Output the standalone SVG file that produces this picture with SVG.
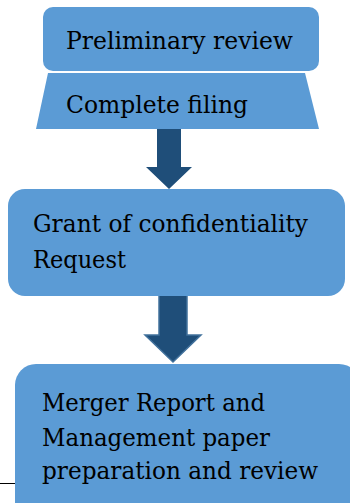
<svg xmlns="http://www.w3.org/2000/svg" width="350" height="503" viewBox="0 0 350 503">
  <style>
    .box { fill: #5B9BD5; }
    .lbl { font-family: "DejaVu Serif", "Liberation Serif", serif; font-size: 24px; fill: #000; }
    .arrow { fill: #1F4E79; }
    .arrow2 { fill: #1F4E79; stroke: #41719C; stroke-width: 1.5; }
  </style>
  <rect width="350" height="503" fill="#fff"/>
  <g id="connectors">
    <path class="arrow" d="M157,129 H181 V167 H192 L169,189 L146,167 H157 Z"/>
    <path class="arrow2" d="M159,294 H187 V335 H201 L173,362 L145,335 H159 Z"/>
    <line x1="0" y1="483.5" x2="16" y2="483.5" stroke="#000" stroke-width="1"/>
  </g>
  <g id="preliminary-review">
    <rect class="box" x="43" y="7" width="276" height="64" rx="10"/>
    <text class="lbl" x="66" y="48.5" textLength="227" lengthAdjust="spacingAndGlyphs">Preliminary review</text>
  </g>
  <g id="complete-filing">
    <polygon class="box" points="48,73 305,73 319,129 36,129"/>
    <text class="lbl" x="66" y="112.5" textLength="182" lengthAdjust="spacingAndGlyphs">Complete filing</text>
  </g>
  <g id="grant-confidentiality">
    <rect class="box" x="8" y="189" width="337" height="107" rx="17"/>
    <text class="lbl" x="33" y="231.5" textLength="275" lengthAdjust="spacingAndGlyphs">Grant of confidentiality</text>
    <text class="lbl" x="33" y="268" textLength="93" lengthAdjust="spacingAndGlyphs">Request</text>
  </g>
  <g id="merger-report">
    <rect class="box" x="15" y="364" width="345" height="160" rx="21"/>
    <text class="lbl" x="42" y="411" textLength="223" lengthAdjust="spacingAndGlyphs">Merger Report and</text>
    <text class="lbl" x="42" y="445.5" textLength="228" lengthAdjust="spacingAndGlyphs">Management paper</text>
    <text class="lbl" x="42" y="479" textLength="276" lengthAdjust="spacingAndGlyphs">preparation and review</text>
  </g>
</svg>
